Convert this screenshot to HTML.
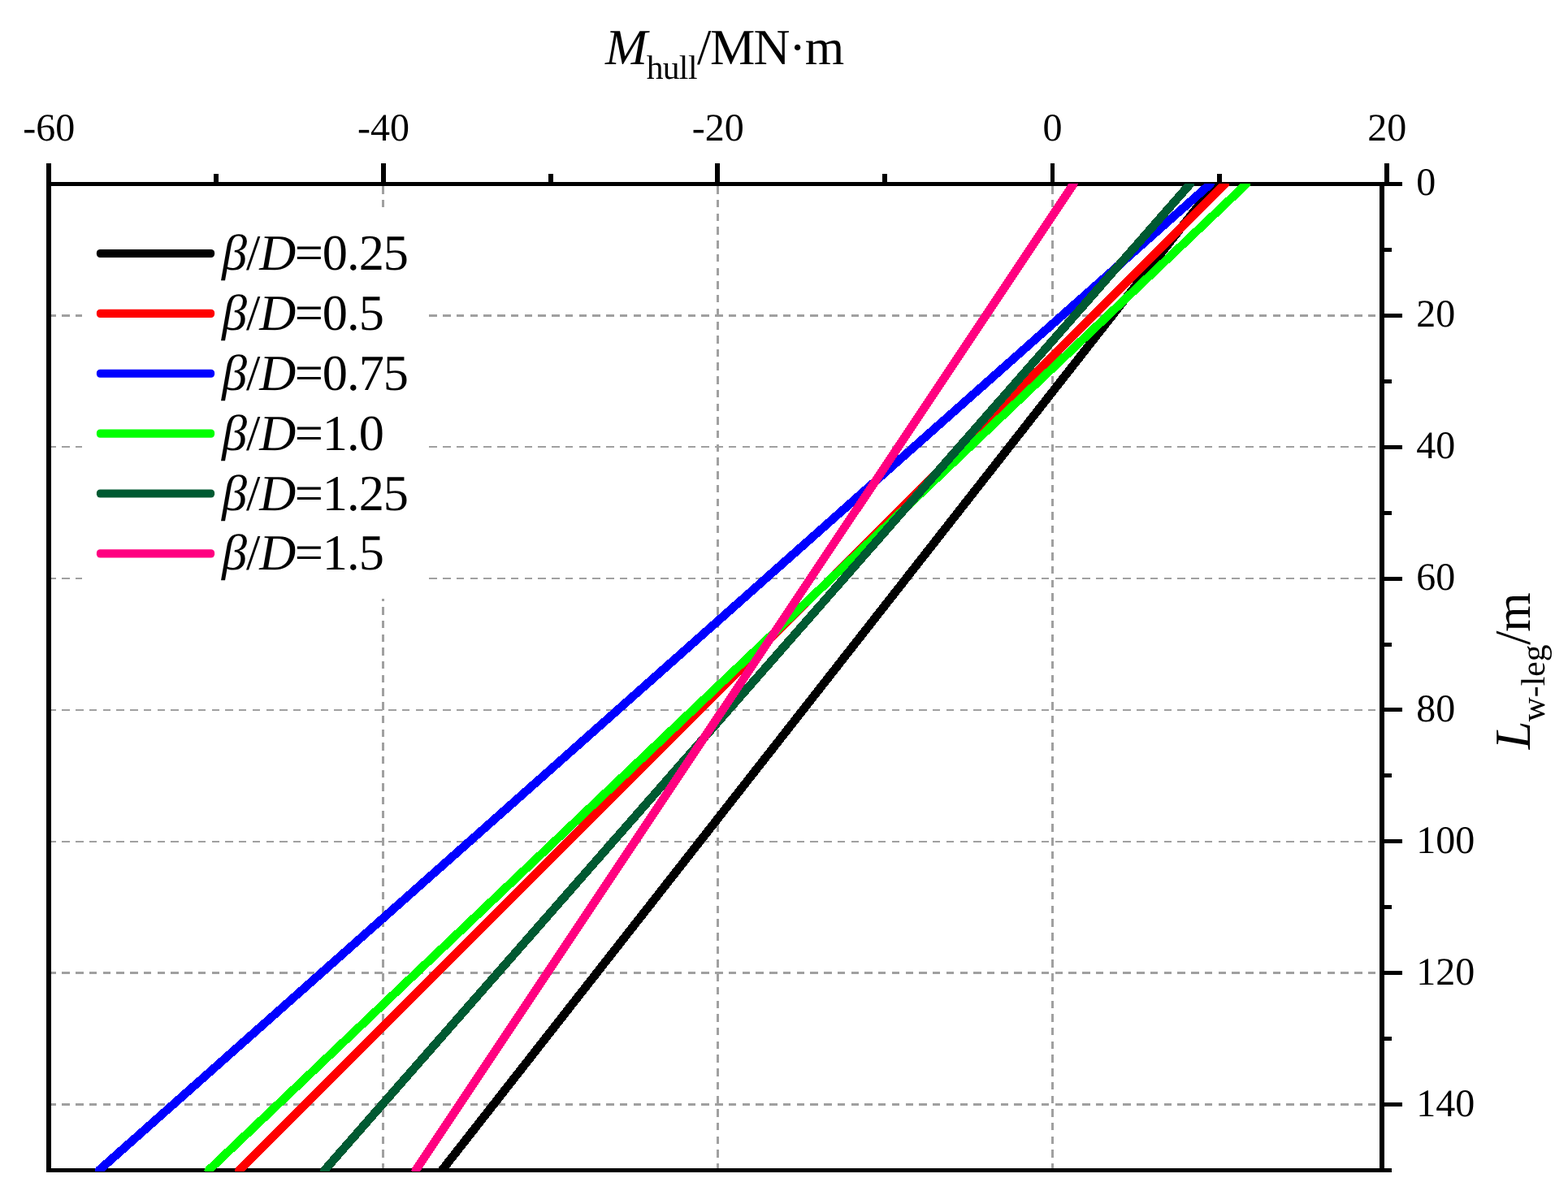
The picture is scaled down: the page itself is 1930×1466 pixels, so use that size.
<!DOCTYPE html>
<html lang="en"><head><meta charset="utf-8"><title>M hull vs L w-leg</title>
<style>html,body{margin:0;padding:0;background:#fff;overflow:hidden}svg{display:block}text{font-family:"Liberation Serif","Times New Roman",serif;fill:#000;font-kerning:none;text-rendering:geometricPrecision}.i{font-style:italic}</style></head><body>
<svg width="1930" height="1466" viewBox="0 0 1930 1466">
<rect x="0" y="0" width="1930" height="1466" fill="#fff"/>
<g shape-rendering="crispEdges" stroke="#a0a0a0" fill="none">
<line x1="471.50" y1="229.3" x2="471.50" y2="1438" stroke-width="3" stroke-dasharray="9.45 7.255"/>
<line x1="883.50" y1="229.3" x2="883.50" y2="1438" stroke-width="3" stroke-dasharray="9.45 7.255"/>
<line x1="1295.50" y1="229.3" x2="1295.50" y2="1438" stroke-width="3" stroke-dasharray="9.45 7.255"/>
<line x1="59.6" y1="388.50" x2="1698" y2="388.50" stroke-width="3" stroke-dasharray="9.45 7.295"/>
<line x1="59.6" y1="550.00" x2="1698" y2="550.00" stroke-width="2" stroke-dasharray="9.45 7.295"/>
<line x1="59.6" y1="712.00" x2="1698" y2="712.00" stroke-width="2" stroke-dasharray="9.45 7.295"/>
<line x1="59.6" y1="874.00" x2="1698" y2="874.00" stroke-width="2" stroke-dasharray="9.45 7.295"/>
<line x1="59.6" y1="1036.00" x2="1698" y2="1036.00" stroke-width="2" stroke-dasharray="9.45 7.295"/>
<line x1="59.6" y1="1197.50" x2="1698" y2="1197.50" stroke-width="3" stroke-dasharray="9.45 7.295"/>
<line x1="59.6" y1="1359.50" x2="1698" y2="1359.50" stroke-width="3" stroke-dasharray="9.45 7.295"/>
</g>
<g shape-rendering="crispEdges" fill="#000">
<rect x="57" y="224" width="1669" height="5"/>
<rect x="57" y="1438" width="1656" height="5"/>
<rect x="57" y="201" width="6" height="1242"/>
<rect x="1698" y="224" width="6" height="1219"/>
<rect x="57" y="201" width="6" height="25"/>
<rect x="263" y="214" width="6" height="12"/>
<rect x="469" y="201" width="6" height="25"/>
<rect x="675" y="214" width="6" height="12"/>
<rect x="880" y="201" width="6" height="25"/>
<rect x="1086" y="214" width="6" height="12"/>
<rect x="1293" y="201" width="5" height="25"/>
<rect x="1498" y="214" width="6" height="12"/>
<rect x="1704" y="201" width="6" height="25"/>
<rect x="1701" y="224" width="25" height="5"/>
<rect x="1701" y="305" width="12" height="5"/>
<rect x="1701" y="386" width="25" height="5"/>
<rect x="1701" y="467" width="12" height="5"/>
<rect x="1701" y="548" width="25" height="5"/>
<rect x="1701" y="629" width="12" height="5"/>
<rect x="1701" y="710" width="25" height="5"/>
<rect x="1701" y="791" width="12" height="5"/>
<rect x="1701" y="871" width="25" height="5"/>
<rect x="1701" y="952" width="12" height="5"/>
<rect x="1701" y="1033" width="25" height="5"/>
<rect x="1701" y="1114" width="12" height="5"/>
<rect x="1701" y="1195" width="25" height="5"/>
<rect x="1701" y="1276" width="12" height="5"/>
<rect x="1701" y="1357" width="25" height="5"/>
<rect x="1701" y="1438" width="12" height="5"/>
</g>
<defs><clipPath id="c"><rect x="60" y="226" width="1641" height="1216"/></clipPath></defs>
<g clip-path="url(#c)" shape-rendering="crispEdges" fill="none" stroke-width="10.5" stroke-linecap="round">
<line x1="1496.04" y1="226.50" x2="543.99" y2="1440.50" stroke="#000000"/>
<line x1="1507.70" y1="226.50" x2="294.50" y2="1440.50" stroke="#ff0000"/>
<line x1="1489.67" y1="226.50" x2="121.86" y2="1440.50" stroke="#0000ff"/>
<line x1="1533.99" y1="226.50" x2="256.73" y2="1440.50" stroke="#00ff00"/>
<line x1="1464.82" y1="226.50" x2="399.44" y2="1440.50" stroke="#005a32"/>
<line x1="1321.27" y1="226.50" x2="511.73" y2="1440.50" stroke="#ff0080"/>
</g>
<rect x="101" y="257" width="424" height="480" fill="#fff"/>
<rect x="118.9" y="306.95" width="145.2" height="10.1" rx="4.2" fill="#000000"/>
<text class="i" font-size="62.3" y="332" x="272.93">β</text>
<text font-size="62.3" y="332" x="303.06">/</text>
<text class="i" font-size="62.3" y="332" x="319.22">D</text>
<text font-size="62.3" y="332" x="362.73 396.65 426.93 441.65 471.65">=0.25</text>
<rect x="118.9" y="380.83" width="145.2" height="10.1" rx="4.2" fill="#ff0000"/>
<text class="i" font-size="62.3" y="405.9" x="272.93">β</text>
<text font-size="62.3" y="405.9" x="303.06">/</text>
<text class="i" font-size="62.3" y="405.9" x="319.22">D</text>
<text font-size="62.3" y="405.9" x="362.73 396.65 426.93 441.65">=0.5</text>
<rect x="118.9" y="454.71" width="145.2" height="10.1" rx="4.2" fill="#0000ff"/>
<text class="i" font-size="62.3" y="479.8" x="272.93">β</text>
<text font-size="62.3" y="479.8" x="303.06">/</text>
<text class="i" font-size="62.3" y="479.8" x="319.22">D</text>
<text font-size="62.3" y="479.8" x="362.73 396.65 426.93 441.65 471.65">=0.75</text>
<rect x="118.9" y="528.59" width="145.2" height="10.1" rx="4.2" fill="#00ff00"/>
<text class="i" font-size="62.3" y="553.6" x="272.93">β</text>
<text font-size="62.3" y="553.6" x="303.06">/</text>
<text class="i" font-size="62.3" y="553.6" x="319.22">D</text>
<text font-size="62.3" y="553.6" x="362.73 396.65 426.93 441.65">=1.0</text>
<rect x="118.9" y="602.47" width="145.2" height="10.1" rx="4.2" fill="#005a32"/>
<text class="i" font-size="62.3" y="627.5" x="272.93">β</text>
<text font-size="62.3" y="627.5" x="303.06">/</text>
<text class="i" font-size="62.3" y="627.5" x="319.22">D</text>
<text font-size="62.3" y="627.5" x="362.73 396.65 426.93 441.65 471.65">=1.25</text>
<rect x="118.9" y="676.35" width="145.2" height="10.1" rx="4.2" fill="#ff0080"/>
<text class="i" font-size="62.3" y="701.4" x="272.93">β</text>
<text font-size="62.3" y="701.4" x="303.06">/</text>
<text class="i" font-size="62.3" y="701.4" x="319.22">D</text>
<text font-size="62.3" y="701.4" x="362.73 396.65 426.93 441.65">=1.5</text>
<text x="60.3" y="173" font-size="48" text-anchor="middle">-60</text>
<text x="472.1" y="173" font-size="48" text-anchor="middle">-40</text>
<text x="883.8" y="173" font-size="48" text-anchor="middle">-20</text>
<text x="1295.5" y="173" font-size="48" text-anchor="middle">0</text>
<text x="1707.3" y="173" font-size="48" text-anchor="middle">20</text>
<text x="1743.2" y="239.5" font-size="48">0</text>
<text x="1743.2" y="401.6" font-size="48">20</text>
<text x="1743.2" y="563.6" font-size="48">40</text>
<text x="1743.2" y="725.7" font-size="48">60</text>
<text x="1743.2" y="887.7" font-size="48">80</text>
<text x="1743.2" y="1049.8" font-size="48">100</text>
<text x="1743.2" y="1211.9" font-size="48">120</text>
<text x="1743.2" y="1373.9" font-size="48">140</text>
<text class="i" font-size="62.3" y="78.9" x="745.09">M</text>
<text font-size="41.5" y="96.96" x="795.66 815.66 835.82 846.94">hull</text>
<text font-size="62.3" y="78.9" x="857.94 873.90 927.45 971.22 990.69">/MN·m</text>
<g transform="translate(1883.1 921.6) rotate(-90)">
<text class="i" font-size="62.3" y="0" x="-0.64">L</text>
<text font-size="41.5" y="18" x="33.41 63.43 77.28 88.85 107.31">w-leg</text>
<text font-size="62.3" y="0" x="127.77 143.86">/m</text>
</g>
</svg></body></html>
